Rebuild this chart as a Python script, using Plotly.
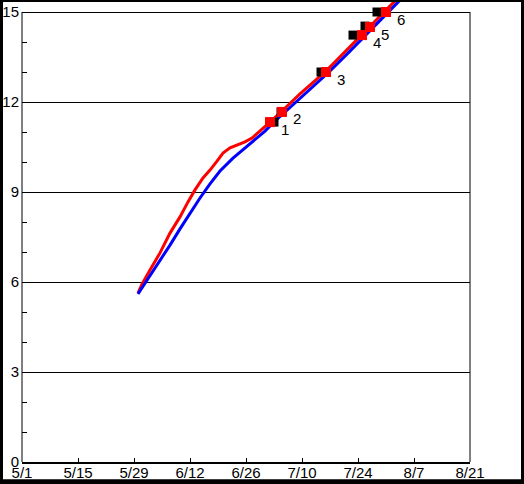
import plotly.graph_objects as go

# Red series
red_dates = ["2023-05-30", "2023-05-31", "2023-06-02", "2023-06-04 12:00", "2023-06-07",
             "2023-06-09 12:00", "2023-06-11 12:00", "2023-06-13 06:00", "2023-06-15 06:00",
             "2023-06-17", "2023-06-18 18:00", "2023-06-20 06:00", "2023-06-22",
             "2023-06-23 18:00", "2023-06-25 18:00", "2023-06-27 12:00", "2023-06-29 12:00",
             "2023-07-02", "2023-07-05", "2023-07-09 12:00", "2023-07-16", "2023-07-20 18:00",
             "2023-07-25", "2023-07-27", "2023-07-31", "2023-08-03"]
red_values = [5.63, 5.93, 6.40, 6.97, 7.63, 8.17, 8.67, 9.07, 9.47, 9.73, 10.03, 10.30, 10.47,
              10.57, 10.67, 10.80, 11.03, 11.33, 11.70, 12.27, 13.03, 13.67, 14.23, 14.50,
              15.03, 15.47]

# Blue series
blue_dates = ["2023-05-30", "2023-06-02", "2023-06-04 12:00", "2023-06-07", "2023-06-09 12:00",
              "2023-06-12", "2023-06-14 12:00", "2023-06-17", "2023-06-19 12:00",
              "2023-06-22 18:00", "2023-06-25 18:00", "2023-06-28 06:00", "2023-06-30 18:00",
              "2023-07-02 18:00", "2023-07-05 18:00", "2023-07-10 06:00", "2023-07-16 18:00",
              "2023-07-21 12:00", "2023-07-25 18:00", "2023-07-27 18:00", "2023-07-31 18:00",
              "2023-08-03 18:00"]
blue_values = [5.60, 6.20, 6.70, 7.23, 7.77, 8.30, 8.80, 9.27, 9.70, 10.13, 10.47, 10.73, 11.03,
               11.30, 11.67, 12.23, 13.00, 13.63, 14.20, 14.47, 15.00, 15.43]

# Numbered markers
point_labels = ["1", "2", "3", "4", "5", "6"]
red_mark_dates = ["2023-07-02", "2023-07-05", "2023-07-16", "2023-07-25", "2023-07-27", "2023-07-31"]
red_mark_values = [11.33, 11.67, 13.0, 14.23, 14.5, 15.0]
black_mark_dates = ["2023-07-03", "2023-07-04 18:00", "2023-07-14 18:00", "2023-07-22 18:00",
                    "2023-07-25 18:00", "2023-07-28 18:00"]
black_mark_values = [11.33, 11.67, 13.0, 14.23, 14.53, 15.0]

x_range = ["2023-05-01", "2023-08-21"]
y_top = 15

FONT = "Liberation Sans, Arial, sans-serif"

fig = go.Figure()
fig.add_trace(go.Scatter(x=red_dates, y=red_values, mode="lines",
                         line=dict(color="#ff0000", width=3), showlegend=False))
fig.add_trace(go.Scatter(x=blue_dates, y=blue_values, mode="lines",
                         line=dict(color="#0000ff", width=3), showlegend=False))
fig.add_trace(go.Scatter(x=black_mark_dates, y=black_mark_values, mode="markers",
                         marker=dict(symbol="square", size=9, color="black", line=dict(width=0)),
                         showlegend=False))
fig.add_trace(go.Scatter(x=red_mark_dates, y=red_mark_values, mode="markers",
                         marker=dict(symbol="square", size=10, color="#ff0000", line=dict(width=0)),
                         showlegend=False))

for d, v, t in zip(red_mark_dates, red_mark_values, point_labels):
    fig.add_annotation(x=d, y=v, text=t, showarrow=False, xanchor="center", yanchor="middle",
                       xshift=15, yshift=-7, font=dict(family=FONT, size=15, color="black"))

W, H = 524, 484
L, R, T, B = 22, 54, 0, 22
pw, ph = W - L - R, H - T - B

def px(x):
    return (x - L) / pw

def py(y):
    return (H - B - y) / ph

shapes = [
    dict(type="line", xref="paper", yref="y", x0=0, x1=0, y0=0, y1=y_top,
         line=dict(color="black", width=1)),
    dict(type="line", xref="paper", yref="y", x0=1, x1=1, y0=0, y1=y_top,
         line=dict(color="black", width=1)),
    dict(type="line", xref="paper", yref="paper", x0=px(0), x1=px(W), y0=py(1), y1=py(1),
         line=dict(color="black", width=2)),
    dict(type="line", xref="paper", yref="paper", x0=px(0), x1=px(W), y0=py(481.7), y1=py(481.7),
         line=dict(color="black", width=5)),
    dict(type="line", xref="paper", yref="paper", x0=px(1.5), x1=px(1.5), y0=py(0), y1=py(H),
         line=dict(color="black", width=3)),
    dict(type="line", xref="paper", yref="paper", x0=px(522.5), x1=px(522.5), y0=py(0), y1=py(H),
         line=dict(color="black", width=3)),
]

fig.update_layout(
    width=W, height=H,
    margin=dict(l=L, r=R, t=T, b=B, pad=0, autoexpand=False),
    paper_bgcolor="white", plot_bgcolor="white",
    font=dict(family=FONT, size=15, color="black"),
    shapes=shapes,
    showlegend=False,
)
fig.update_xaxes(
    type="date", range=x_range, tick0="2023-05-01", dtick=14 * 86400000,
    tickformat="%-m/%-d", ticks="inside", ticklen=4, tickcolor="black", tickwidth=1,
    showgrid=False, zeroline=False, showline=True, linecolor="black", linewidth=2,
    tickfont=dict(family=FONT, size=15, color="black"), automargin=False,
    ticklabelstandoff=-4,
)
fig.update_yaxes(
    range=[0, 15.4], tick0=0, dtick=3, ticks="inside", ticklen=5, tickcolor="black",
    showgrid=True, gridcolor="black", gridwidth=1, zeroline=False, showline=False,
    minor=dict(dtick=1, ticks="inside", ticklen=5, tickcolor="black", showgrid=False),
    tickfont=dict(family=FONT, size=15, color="black"), automargin=False,
    ticklabelstandoff=2,
)

fig.write_html("out.html", config={"displayModeBar": False},
               post_script="document.body.style.margin='0';")
